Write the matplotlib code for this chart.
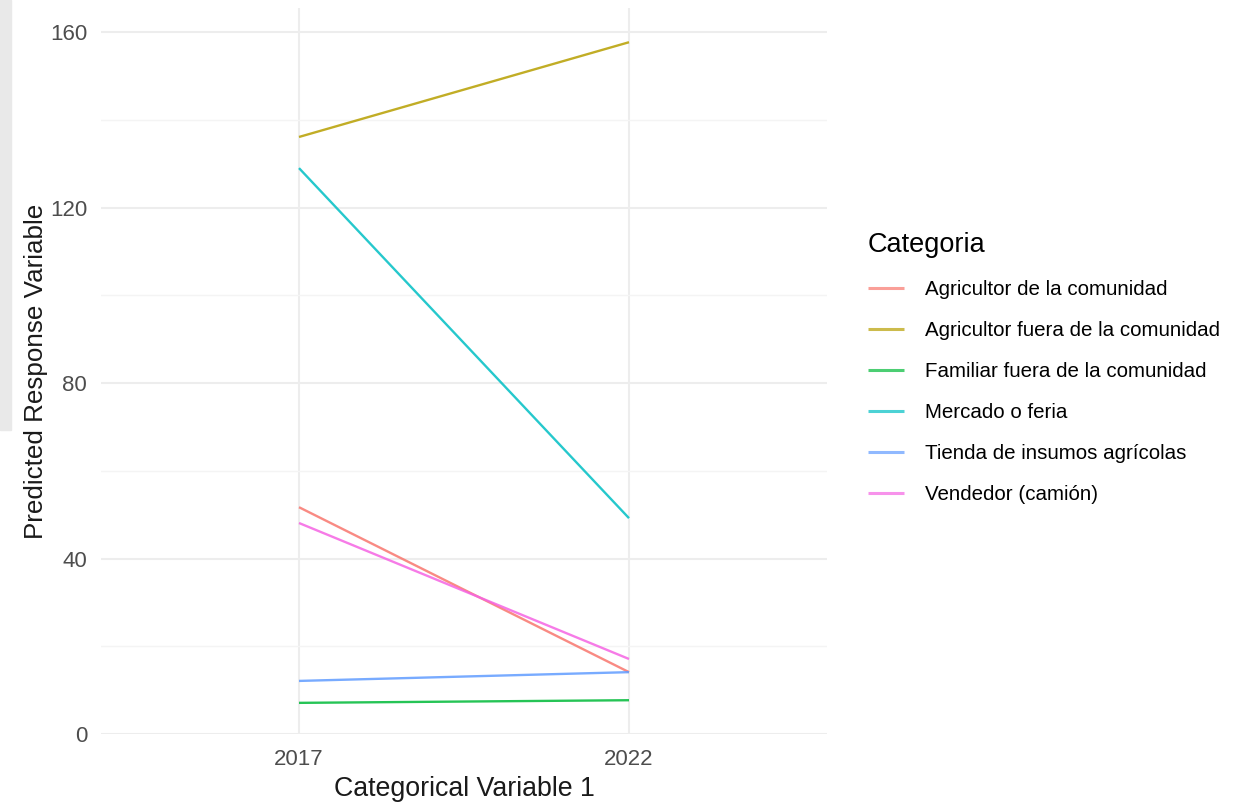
import matplotlib
matplotlib.use("Agg")
import matplotlib.pyplot as plt
from matplotlib.patches import Rectangle

plt.rcParams["font.family"] = ["Liberation Sans", "DejaVu Sans"]

# --------------------------------------------------------------------------- #
# Data
# --------------------------------------------------------------------------- #
years = ["2017", "2022"]
categories = [
    "Agricultor de la comunidad",
    "Agricultor fuera de la comunidad",
    "Familiar fuera de la comunidad",
    "Mercado o feria",
    "Tienda de insumos agrícolas",
    "Vendedor (camión)",
]
agricultor_comunidad = [51.7, 14.1]
agricultor_fuera = [136.1, 157.7]
familiar_fuera = [7.1, 7.7]
mercado_feria = [129.0, 49.2]
tienda_insumos = [12.1, 14.1]
vendedor_camion = [48.1, 17.1]
series = [agricultor_comunidad, agricultor_fuera, familiar_fuera,
          mercado_feria, tienda_insumos, vendedor_camion]
colors = ["#F8766D", "#B79F00", "#00BA38", "#00BFC4", "#619CFF", "#F564E3"]
y_ticks = [0, 40, 80, 120, 160]

# --------------------------------------------------------------------------- #
W, H = 1246, 802
fig = plt.figure(figsize=(W / 100, H / 100), dpi=100)
ax = fig.add_axes([101 / W, 1 - 734 / H, (827 - 101) / W, (734 - 8) / H])

x = list(range(len(years)))
for name, vals, c in zip(categories, series, colors):
    ax.plot(x, vals, color=c, lw=1.7, alpha=0.85, label=name,
            solid_capstyle="butt")

ax.set_xlim(-0.6, len(years) - 1 + 0.6)
ax.set_ylim(0, 165.5)
ax.set_xticks(x, years)
ax.set_yticks(y_ticks)
ax.set_yticks([20, 60, 100, 140], minor=True)
ax.grid(True, which="major", color="#EDEDED", lw=1.5)
ax.grid(True, which="minor", axis="y", color="#F4F4F4", lw=1.0)
ax.set_axisbelow(True)
for s in ax.spines.values():
    s.set_visible(False)
ax.tick_params(which="both", length=0, labelsize=16, colors="#4D4D4D")
ax.tick_params(axis="x", pad=11)
ax.tick_params(axis="y", pad=10)
ax.set_xlabel("Categorical Variable 1", fontsize=19.3, color="#1A1A1A",
              labelpad=4)
ax.set_ylabel("Predicted Response Variable", fontsize=18.7, color="#1A1A1A",
              labelpad=1)

handles, labels = ax.get_legend_handles_labels()
leg = fig.legend(handles, labels, loc="upper left",
                 bbox_to_anchor=(868 / W, 1 - 232 / H),
                 borderpad=0, borderaxespad=0, frameon=False,
                 title="Categoria", fontsize=14.8, title_fontsize=19.5,
                 handlelength=1.75, handletextpad=1.0,
                 labelspacing=1.07, alignment="left")
for h in leg.get_lines():
    h.set_linewidth(2.2)
    h.set_alpha(0.7)

# screenshot artifact strip at the far left edge
fig.patches.append(Rectangle((0, 1 - 430 / H), 11 / W, 430 / H,
                             transform=fig.transFigure, color="#E9E9E9",
                             zorder=-1))

fig.savefig("out.png", dpi=100, facecolor="white")
